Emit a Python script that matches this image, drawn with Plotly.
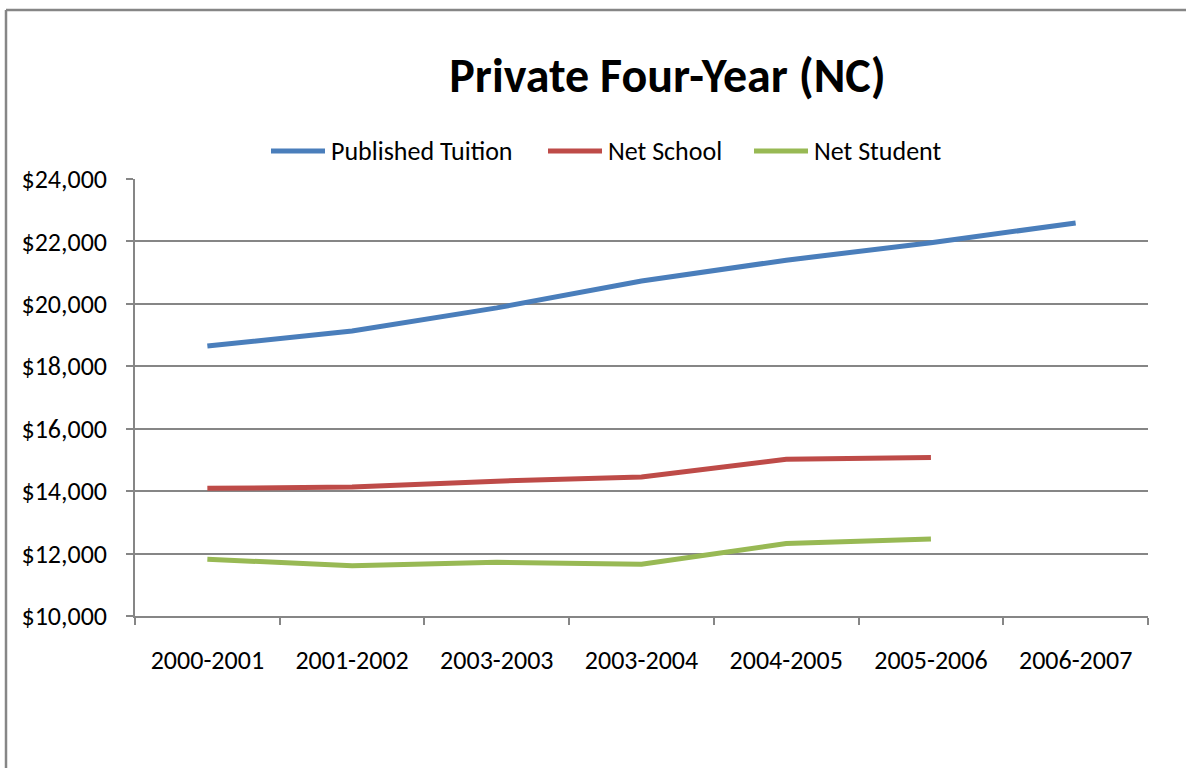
import plotly.graph_objects as go

years = ["2000-2001", "2001-2002", "2003-2003", "2003-2004",
         "2004-2005", "2005-2006", "2006-2007"]
published_tuition = [18650, 19130, 19870, 20730, 21400, 21960, 22590]
net_school = [14090, 14130, 14320, 14450, 15020, 15080]
net_student = [11820, 11610, 11720, 11660, 12320, 12470]
y_ticks = [10000, 12000, 14000, 16000, 18000, 20000, 22000, 24000]

FONT = "Carlito, Calibri, Lato, sans-serif"
GREY = "#868686"
W, H = 1186, 768
L, R, T, B = 135, 38, 179, 152


def px_x(px):
    # pixel -> paper x
    return (px - L) / (W - L - R)


def px_y(py):
    # pixel -> paper y
    return 1 - (py - T) / (H - T - B)


fig = go.Figure()

series = [
    ("Published Tuition", published_tuition, "#4A7EBB"),
    ("Net School", net_school, "#BE4B48"),
    ("Net Student", net_student, "#98B954"),
]
for name, vals, color in series:
    fig.add_trace(go.Scatter(
        x=years[:len(vals)], y=vals, mode="lines", name=name,
        line=dict(color=color, width=5), showlegend=False,
    ))

# hand-made legend so the entries sit like Excel's
legend_x = [271, 548, 754]
for (name, _, color), x0 in zip(series, legend_x):
    fig.add_shape(type="line", xref="paper", yref="paper",
                  x0=px_x(x0), x1=px_x(x0 + 54), y0=px_y(151), y1=px_y(151),
                  line=dict(color=color, width=5))
    fig.add_annotation(text=name, xref="paper", yref="paper",
                       x=px_x(x0 + 58), y=px_y(151), xanchor="left", yanchor="middle",
                       showarrow=False, font=dict(size=26))

# outer chart frame (only left and top edges are visible in the crop)
fig.add_shape(type="line", xref="paper", yref="paper",
              x0=px_x(6), x1=px_x(6), y0=px_y(800), y1=px_y(10),
              line=dict(color=GREY, width=2.5))
fig.add_shape(type="line", xref="paper", yref="paper",
              x0=px_x(6), x1=px_x(1200), y0=px_y(10), y1=px_y(10),
              line=dict(color=GREY, width=2.5))

fig.update_layout(
    width=W, height=H,
    margin=dict(l=L, r=R, t=T, b=B),
    paper_bgcolor="white", plot_bgcolor="white",
    font=dict(family=FONT, size=26, color="black"),
    title=dict(text="<b>Private Four-Year (NC)</b>", font=dict(size=48),
               xref="container", x=0.5628, xanchor="center",
               yref="container", y=0.902, yanchor="middle"),
    showlegend=False,
)
fig.update_xaxes(
    type="category", range=[-0.5, 6.5],
    showline=True, linecolor=GREY, linewidth=1.5,
    ticks="outside", tickson="boundaries", ticklen=7, tickcolor=GREY, tickwidth=1.5,
    showgrid=False, ticklabelstandoff=20,
)
fig.update_yaxes(
    range=[10000, 24000], tickvals=y_ticks,
    ticktext=[f"${v:,}" for v in y_ticks],
    showline=True, linecolor=GREY, linewidth=1.5,
    ticks="outside", ticklen=7, tickcolor=GREY, tickwidth=1.5,
    showgrid=True, gridcolor=GREY, gridwidth=1.5, zeroline=False,
    ticklabelstandoff=14,
)

fig.write_html("out.html", config={"displayModeBar": False},
               post_script="document.body.style.margin='0';")
